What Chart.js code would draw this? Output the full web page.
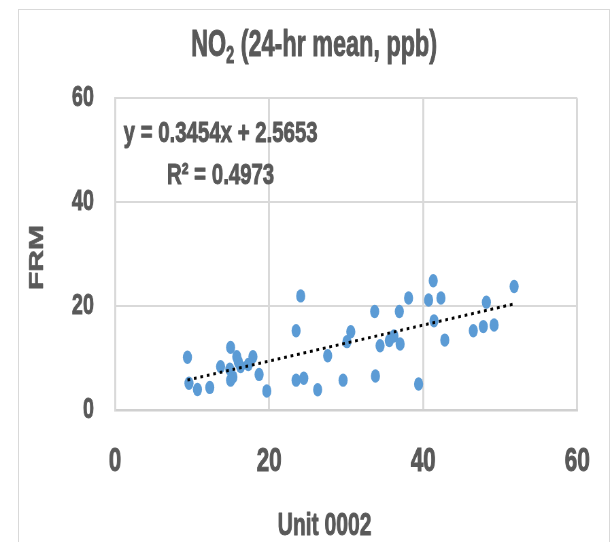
<!DOCTYPE html>
<html>
<head>
<meta charset="utf-8">
<script src="https://cdn.jsdelivr.net/npm/chart.js@4.4.1/dist/chart.umd.min.js"></script>
<style>
  html, body { margin: 0; padding: 0; background: #fff; overflow: hidden; width: 613px; height: 542px; }
  #frame { position: absolute; left: 18px; top: 9px; width: 592px; height: 560px;
           border: 1.5px solid #d9d9d9; border-bottom: none; box-sizing: border-box; }
  #wrap { position: absolute; left: 0; top: 0; width: 902px; height: 542px;
          transform: scaleX(0.68); transform-origin: 0 0; }
</style>
</head>
<body>
<div id="frame"></div>
<div id="wrap"><canvas id="c" width="902" height="542"></canvas></div>
<script>
// NO2 24-hour means: co-located Unit 0002 sensor (x) against the FRM monitor (y), ppb
const unitValues = [
  9.4, 9.6, 10.7, 12.3, 13.7, 14.9, 15.0, 15.0, 15.3, 15.8, 16.0, 16.3, 17.3, 17.9, 18.7, 19.7,
  23.5, 24.1, 23.5, 24.5, 26.3, 27.6, 29.6, 30.1, 30.6, 33.7, 33.8, 34.4, 35.6, 36.2, 36.9, 37.0,
  38.1, 39.4, 40.7, 41.3, 41.4, 42.3, 42.8, 46.5, 47.8, 48.2, 49.2, 51.8
];
const frmValues = [
  10.2, 5.2, 4.0, 4.4, 8.4, 7.9, 12.1, 5.8, 6.4, 10.3, 9.35, 8.4, 8.8, 10.3, 6.9, 3.7,
  15.3, 22.0, 5.8, 6.15, 3.96, 10.5, 5.8, 13.2, 15.1, 19.0, 6.6, 12.4, 13.4, 14.3, 19.0, 12.75,
  21.6, 5.06, 21.2, 24.9, 17.2, 21.6, 13.5, 15.3, 16.1, 20.8, 16.4, 23.8
];

// Linear fit reported on the chart
const fitSlope = 0.3454;
const fitIntercept = 2.5653;
const fitR2 = 0.4973;

// Axis ticks (both axes 0-60 ppb)
const axisTicks = [0, 20, 40, 60];

const SQUASH = 0.68;                 // horizontal compression of the whole figure
const TEXT_COLOR = '#595959';
const GRID_COLOR = '#d9d9d9';
const POINT_COLOR = '#5b9bd5';
const FONT = '"Liberation Sans", Arial, sans-serif';

const W = 902, H = 542;
const AREA_LEFT = 115 / SQUASH, AREA_RIGHT = 577.3 / SQUASH, AREA_TOP = 98.3, AREA_BOTTOM = 410.3;

const points = unitValues.map((x, i) => ({ x, y: frmValues[i] }));
const xMin = Math.min(...unitValues), xMax = Math.max(...unitValues);
const trend = [xMin, xMax].map(x => ({ x, y: fitSlope * x + fitIntercept }));

// Filled text with a thin outline in the same colour for a heavier weight
function heavyText(ctx, text, x, y, stroke) {
  ctx.lineWidth = stroke;
  ctx.lineJoin = 'round';
  ctx.strokeText(text, x, y);
  ctx.fillText(text, x, y);
}

const annotations = {
  id: 'annotations',
  afterDraw(chart) {
    const ctx = chart.ctx;
    ctx.save();
    ctx.fillStyle = TEXT_COLOR;
    ctx.strokeStyle = TEXT_COLOR;
    ctx.textBaseline = 'alphabetic';

    // Chart title with subscripted 2, slightly condensed
    ctx.save();
    const tx = 0.93;
    ctx.scale(tx, 1);
    const big = 'bold 37px ' + FONT, small = 'bold 23px ' + FONT;
    const a = 'NO', s = '2', b = ' (24-hr mean, ppb)';
    ctx.font = big; const wa = ctx.measureText(a).width, wb = ctx.measureText(b).width;
    ctx.font = small; const ws = ctx.measureText(s).width;
    let x = (314 / SQUASH) / tx - (wa + ws + wb) / 2;
    const base = 56;
    ctx.textAlign = 'left';
    ctx.font = big; heavyText(ctx, a, x, base, 1); x += wa;
    ctx.font = small; heavyText(ctx, s, x, base + 7, 1); x += ws;
    ctx.font = big; heavyText(ctx, b, x, base, 1);
    ctx.restore();

    // Trendline equation and R²
    ctx.textAlign = 'center';
    ctx.font = 'bold 30px ' + FONT;
    const sign = fitIntercept >= 0 ? '+' : '-';
    heavyText(ctx, 'y = ' + fitSlope + 'x ' + sign + ' ' + Math.abs(fitIntercept), 220.6 / SQUASH, 142, 1);
    heavyText(ctx, 'R² = ' + fitR2, 220.6 / SQUASH, 184, 1);

    // Axis titles
    ctx.font = 'bold 31px ' + FONT;
    heavyText(ctx, 'Unit 0002', 324.5 / SQUASH, 535, 1);

    ctx.translate(43 / SQUASH, 257.5);
    ctx.rotate(-Math.PI / 2);
    ctx.font = 'bold 30px ' + FONT;
    heavyText(ctx, 'FRM', 0, 0, 0.8);
    ctx.restore();
  }
};

new Chart(document.getElementById('c'), {
  type: 'scatter',
  data: {
    datasets: [
      {
        label: 'FRM vs Unit 0002',
        data: points,
        backgroundColor: POINT_COLOR,
        borderWidth: 0,
        pointRadius: 6.7,
        pointHoverRadius: 6.7,
        order: 2
      },
      {
        label: 'Linear fit',
        type: 'line',
        data: trend,
        borderColor: '#000000',
        borderWidth: 3,
        borderDash: [4, 5.6],
        borderCapStyle: 'butt',
        pointRadius: 0,
        fill: false,
        order: 1
      }
    ]
  },
  options: {
    responsive: false,
    animation: false,
    events: [],
    layout: { padding: { top: AREA_TOP, left: 0, right: W - AREA_RIGHT, bottom: 0 } },
    plugins: { legend: { display: false }, title: { display: false }, tooltip: { enabled: false } },
    scales: {
      x: {
        type: 'linear',
        min: 0, max: 60,
        afterBuildTicks: sc => { sc.ticks = axisTicks.map(v => ({ value: v })); },
        afterFit: sc => { sc.height = H - AREA_BOTTOM; },
        grid: { color: GRID_COLOR, lineWidth: 2 / SQUASH, drawTicks: false },
        border: { display: true, color: '#d0d0d0', width: 2.5 },
        ticks: { color: TEXT_COLOR, font: { family: FONT, size: 33, weight: 'bold' }, padding: 32, maxRotation: 0,
                 textStrokeColor: TEXT_COLOR, textStrokeWidth: 1 }
      },
      y: {
        type: 'linear',
        min: 0, max: 60,
        afterBuildTicks: sc => { sc.ticks = axisTicks.map(v => ({ value: v })); },
        afterFit: sc => { sc.width = AREA_LEFT; },
        grid: { color: GRID_COLOR, lineWidth: 2, drawTicks: false },
        border: { display: true, color: GRID_COLOR, width: 2 / SQUASH },
        ticks: { color: TEXT_COLOR, font: { family: FONT, size: 29, weight: 'bold' }, padding: 31,
                 textStrokeColor: TEXT_COLOR, textStrokeWidth: 1 }
      }
    }
  },
  plugins: [annotations]
});
</script>
</body>
</html>
